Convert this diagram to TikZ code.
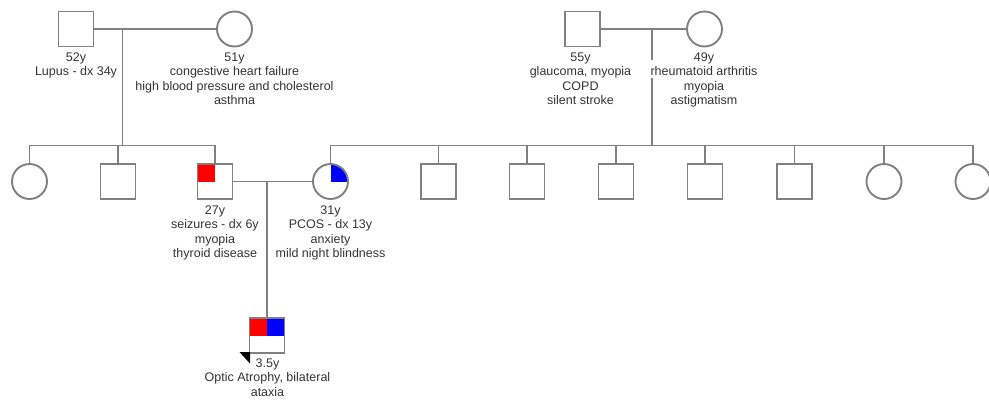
\documentclass[tikz,border=0pt]{standalone}
\usepackage{fontspec}
\setmainfont{Liberation Sans}
\definecolor{lncol}{RGB}{128,128,128}
\definecolor{txcol}{RGB}{51,51,51}
\begin{document}
\begin{tikzpicture}[x=1pt,y=-1pt,
  sq/.style={rectangle,draw=lncol,line width=1.9pt,fill=white,minimum size=35pt,inner sep=0pt},
  ci/.style={circle,draw=lncol,line width=1.9pt,fill=white,minimum size=35pt,inner sep=0pt},
  conn/.style={draw=lncol,line width=1.9pt},
  lbl/.style={anchor=north,inner sep=0pt,align=center,text=txcol,font=\fontsize{12.5pt}{14.5pt}\selectfont},
  redq/.style={path picture={\fill[red] (path picture bounding box.north west) rectangle (path picture bounding box.center);}},
  blueq/.style={path picture={\fill[blue] (path picture bounding box.north east) rectangle (path picture bounding box.center);}},
  bothq/.style={path picture={\fill[red] (path picture bounding box.north west) rectangle (path picture bounding box.center);
                             \fill[blue] (path picture bounding box.north east) rectangle (path picture bounding box.center);}}]
\useasboundingbox (0,0) rectangle (989,402);

% grandparents
\node[sq] (gf1) at (76,29) {};
\node[ci] (gm1) at (234.5,29) {};
\node[sq] (gf2) at (582.5,29) {};
\node[ci] (gm2) at (704.5,29) {};

% generation II
\node[ci] (c1) at (29.5,181.5) {};
\node[sq] (c2) at (118,181.5) {};
\node[sq,redq] (c3) at (215,181.5) {};
\node[ci,blueq] (w) at (330.5,181.5) {};
\node[sq] (r1) at (438.5,181.5) {};
\node[sq] (r2) at (527,181.5) {};
\node[sq] (r3) at (616,181.5) {};
\node[sq] (r4) at (705,181.5) {};
\node[sq] (r5) at (794.5,181.5) {};
\node[ci] (r6) at (884,181.5) {};
\node[ci] (r7) at (973,181.5) {};

% proband
\node[sq,bothq] (pro) at (267,335.5) {};

% junction coordinates
\coordinate (m1) at (122.5,29);
\coordinate (s1) at (122.5,145.5);
\coordinate (m2) at (652,29);
\coordinate (s2) at (652,145.5);
\coordinate (m3) at (267,181.5);

% connectors
\draw[conn] (gf1) -- (gm1);
\draw[conn] (m1) -- (s1);
\draw[conn] (c1.north) |- (s1) -| (c3.north);
\draw[conn] (c2.north) -- (c2.north |- s1);

\draw[conn] (gf2) -- (gm2);
\draw[conn] (m2) -- (s2);
\draw[conn] (w.north) |- (s2) -| (r7.north);
\foreach \n in {r1,r2,r3,r4,r5,r6} {\draw[conn] (\n.north) -- (\n.north |- s2);}

\draw[conn] (c3) -- (w);
\draw[conn] (m3) -- (pro.north);

% proband arrow
\fill[black] (239.5,352) -- (250,352) -- (250,363.5) -- cycle;

% label background over the line
\fill[white] (648,60) rectangle (656,77.5);

% labels
\node[lbl] (t1) at (76,52.5) {52y\\Lupus - dx 34y};
\node[lbl] (t2) at (234.5,52.5) {51y\\congestive heart failure\\high blood pressure and cholesterol\\asthma};
\node[lbl] (t3) at (580.5,52.5) {55y\\glaucoma, myopia\\COPD\\silent stroke};
\node[lbl] (t4) at (704,52.5) {49y\\rheumatoid arthritis\\myopia\\astigmatism};
\node[lbl] (t5) at (215,205.5) {27y\\seizures - dx 6y\\myopia\\thyroid disease};
\node[lbl] (t6) at (330.5,205.5) {31y\\PCOS - dx 13y\\anxiety\\mild night blindness};
\node[lbl] (t7) at (267.5,358.5) {3.5y\\Optic Atrophy, bilateral\\ataxia};
\end{tikzpicture}
\end{document}
